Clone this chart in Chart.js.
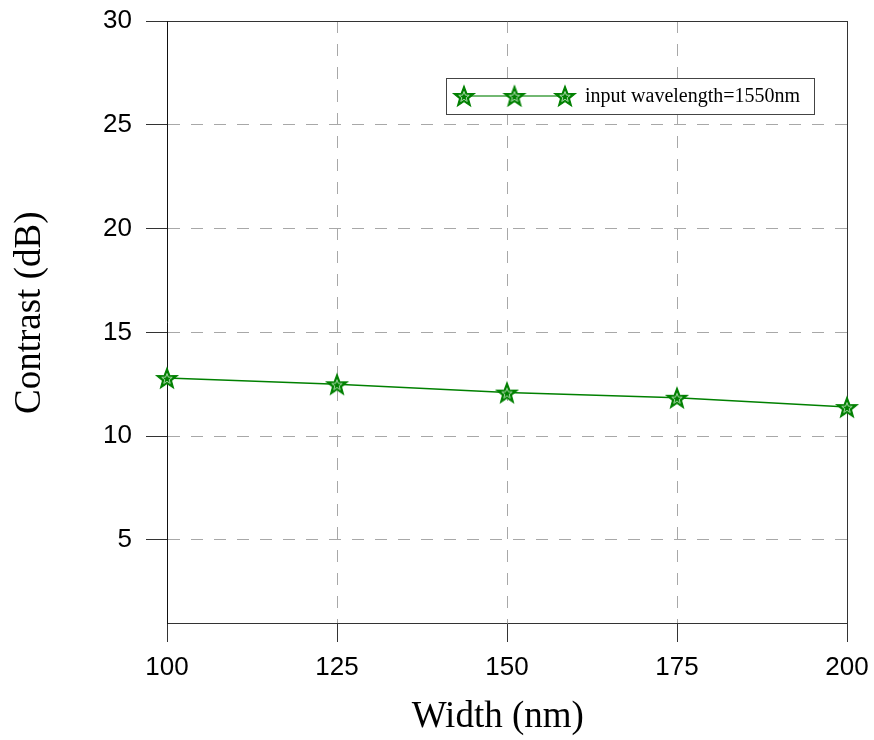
<!DOCTYPE html>
<html>
<head>
<meta charset="utf-8">
<script src="https://cdn.jsdelivr.net/npm/chart.js@4/dist/chart.umd.min.js"></script>
<style>
  html, body { margin: 0; padding: 0; background: #fff; }
  #wrap { width: 874px; height: 740px; }
</style>
</head>
<body>
<div id="wrap"><canvas id="contrastChart"></canvas></div>
<script>
// data
const widths = [100, 125, 150, 175, 200];
const contrast = [12.8, 12.5, 12.1, 11.85, 11.4];
const xTicks = [100, 125, 150, 175, 200];
const yTicks = [5, 10, 15, 20, 25, 30];
const seriesLabel = 'input wavelength=1550nm';

const GREEN = '#008000';
const GRID = '#a8a8a8';
const FRAME = '#333';

function starPath(g, cx, cy, R, r) {
    g.beginPath();
    for (let i = 0; i < 10; i++) {
        const rad = i % 2 === 0 ? R : r;
        const a = -Math.PI / 2 + i * Math.PI / 5;
        const px = cx + rad * Math.cos(a), py = cy + rad * Math.sin(a);
        if (i === 0) g.moveTo(px, py); else g.lineTo(px, py);
    }
    g.closePath();
}

// five-point star marker (Chart.js 'star' is an asterisk)
function makeStar(R) {
    const size = Math.ceil(2 * R + 6);
    const c = document.createElement('canvas');
    c.width = size;
    c.height = size;
    const g = c.getContext('2d');
    const cx = size / 2, cy = size / 2 + 1;
    starPath(g, cx, cy, R, R * 0.42);
    g.fillStyle = GREEN;
    g.fill();
    g.lineWidth = 1.2;
    g.strokeStyle = GREEN;
    g.stroke();
    starPath(g, cx, cy, R * 0.5, R * 0.21);
    g.lineWidth = 1;
    g.strokeStyle = '#a8d8a8';
    g.stroke();
    return c;
}
const starMarker = makeStar(11);

// custom legend box: line through three star markers
const starLegend = {
    id: 'starLegend',
    afterDraw(chart) {
        const { ctx, chartArea } = chart;
        const ds = chart.data.datasets[0];
        const x = chartArea.left + 279, y = chartArea.top + 57;
        const w = 368, h = 36;
        ctx.save();
        ctx.fillStyle = '#fff';
        ctx.fillRect(x, y, w, h);
        ctx.strokeStyle = '#444';
        ctx.lineWidth = 1;
        ctx.strokeRect(x + 0.5, y + 0.5, w, h);
        const my = y + h / 2;
        ctx.strokeStyle = '#72b872';
        ctx.lineWidth = 2;
        ctx.beginPath();
        ctx.moveTo(x + 18, my);
        ctx.lineTo(x + 119, my);
        ctx.stroke();
        [18, 68.5, 119].forEach(dx => {
            ctx.drawImage(starMarker, x + dx - starMarker.width / 2, my - starMarker.height / 2);
        });
        ctx.fillStyle = '#000';
        ctx.font = '20px "Liberation Serif"';
        ctx.textBaseline = 'middle';
        ctx.fillText(ds.label, x + 139, my + 1);
        ctx.restore();
    }
};

const ctx = document.getElementById('contrastChart');

new Chart(ctx, {
    type: 'line',
    data: {
        datasets: [{
            label: seriesLabel,
            data: widths.map((w, i) => ({ x: w, y: contrast[i] })),
            borderColor: GREEN,
            borderWidth: 1.5,
            pointStyle: starMarker,
            pointRadius: 11,
            tension: 0,
            clip: false
        }]
    },
    options: {
        responsive: true,
        maintainAspectRatio: false,
        animation: false,
        events: [],
        layout: { padding: { top: 21, right: 27, bottom: 0, left: 0 } },
        plugins: {
            legend: { display: false },
            tooltip: { enabled: false }
        },
        scales: {
            x: {
                type: 'linear',
                min: 100,
                max: 200,
                afterBuildTicks: scale => { scale.ticks = xTicks.map(v => ({ value: v })); },
                afterFit: scale => {
                    scale.height = 117;
                    scale.paddingLeft = 0;
                    scale.paddingRight = 0;
                },
                ticks: {
                    padding: 10,
                    color: '#000',
                    font: { family: '"Liberation Sans"', size: 26 }
                },
                grid: {
                    color: c => (c.tick && c.tick.value === 200 ? FRAME : GRID),
                    lineWidth: 1,
                    tickLength: 19,
                    tickColor: FRAME,
                    tickBorderDash: []
                },
                border: {
                    color: FRAME,
                    width: 1,
                    dash: c => (c.tick && c.tick.value === 200 ? [] : [12, 11])
                },
                title: {
                    display: true,
                    text: 'Width (nm)\u2002',
                    color: '#000',
                    font: { family: '"Liberation Serif"', size: 37 },
                    padding: { top: 0, bottom: 1 }
                }
            },
            y: {
                min: 1,
                max: 30,
                afterBuildTicks: scale => { scale.ticks = yTicks.map(v => ({ value: v })); },
                afterFit: scale => {
                    scale.width = 167;
                    scale.paddingTop = 0;
                    scale.paddingBottom = 0;
                },
                ticks: {
                    padding: 14,
                    color: '#000',
                    font: { family: '"Liberation Sans"', size: 26 }
                },
                grid: {
                    color: c => (c.tick && c.tick.value === 30 ? FRAME : GRID),
                    lineWidth: 1,
                    tickLength: 21,
                    tickColor: FRAME,
                    tickBorderDash: []
                },
                border: {
                    color: '#111',
                    width: 1,
                    dash: c => (c.tick && c.tick.value === 30 ? [] : [12, 11])
                },
                title: {
                    display: true,
                    text: '\u2002Contrast (dB)',
                    color: '#000',
                    font: { family: '"Liberation Serif"', size: 37 },
                    padding: { top: 8, bottom: 0 }
                }
            }
        }
    },
    plugins: [starLegend]
});
</script>
</body>
</html>
